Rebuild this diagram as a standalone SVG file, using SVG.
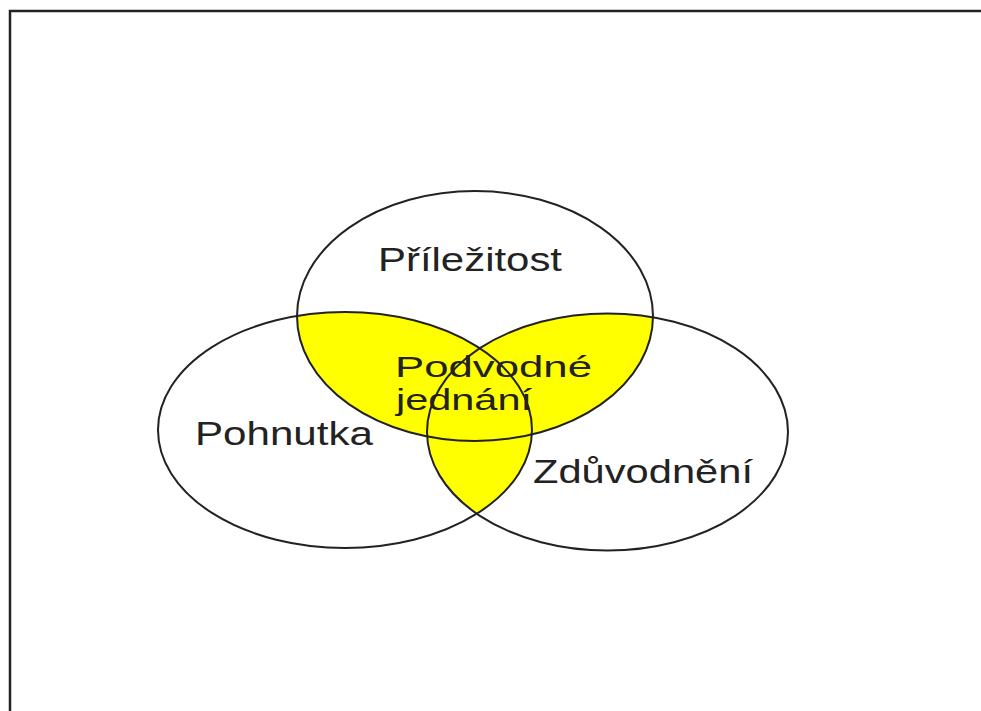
<svg xmlns="http://www.w3.org/2000/svg" width="981" height="711" viewBox="0 0 981 711">
<style>
.o{fill:none;stroke:#222;stroke-width:2}
.t{font-family:"Liberation Sans",Arial,sans-serif;font-size:33px;fill:#222}
.s{font-size:29px}
</style>
<defs>
<clipPath id="cT"><ellipse cx="475" cy="316" rx="178" ry="125"/></clipPath>
<clipPath id="cL"><ellipse cx="345" cy="430" rx="187" ry="118"/></clipPath>
</defs>
<rect width="981" height="711" fill="#fff"/>
<polyline points="10,711 10,11 981,11" fill="none" stroke="#222" stroke-width="2.5"/>
<g id="fill">
<ellipse cx="345" cy="430" rx="187" ry="118" fill="#ffff00" clip-path="url(#cT)"/>
<ellipse cx="607.5" cy="432" rx="180.5" ry="118.5" fill="#ffff00" clip-path="url(#cT)"/>
<ellipse cx="607.5" cy="432" rx="180.5" ry="118.5" fill="#ffff00" clip-path="url(#cL)"/>
</g>
<g id="prilezitost">
<ellipse class="o" cx="475" cy="316" rx="178" ry="125"/>
<text class="t" x="378" y="271" textLength="184" lengthAdjust="spacingAndGlyphs">Příležitost</text>
</g>
<g id="pohnutka">
<ellipse class="o" cx="345" cy="430" rx="187" ry="118"/>
<text class="t" x="195" y="445" textLength="178" lengthAdjust="spacingAndGlyphs">Pohnutka</text>
</g>
<g id="zduvodneni">
<ellipse class="o" cx="607.5" cy="432" rx="180.5" ry="118.5"/>
<text class="t" x="533" y="483" textLength="220" lengthAdjust="spacingAndGlyphs">Zdůvodnění</text>
</g>
<g id="podvodne">
<text class="t s" x="395" y="377" textLength="197" lengthAdjust="spacingAndGlyphs">Podvodné</text>
<text class="t s" x="396" y="410" textLength="136" lengthAdjust="spacingAndGlyphs">jednání</text>
</g>
<g id="connectors"/>
</svg>
